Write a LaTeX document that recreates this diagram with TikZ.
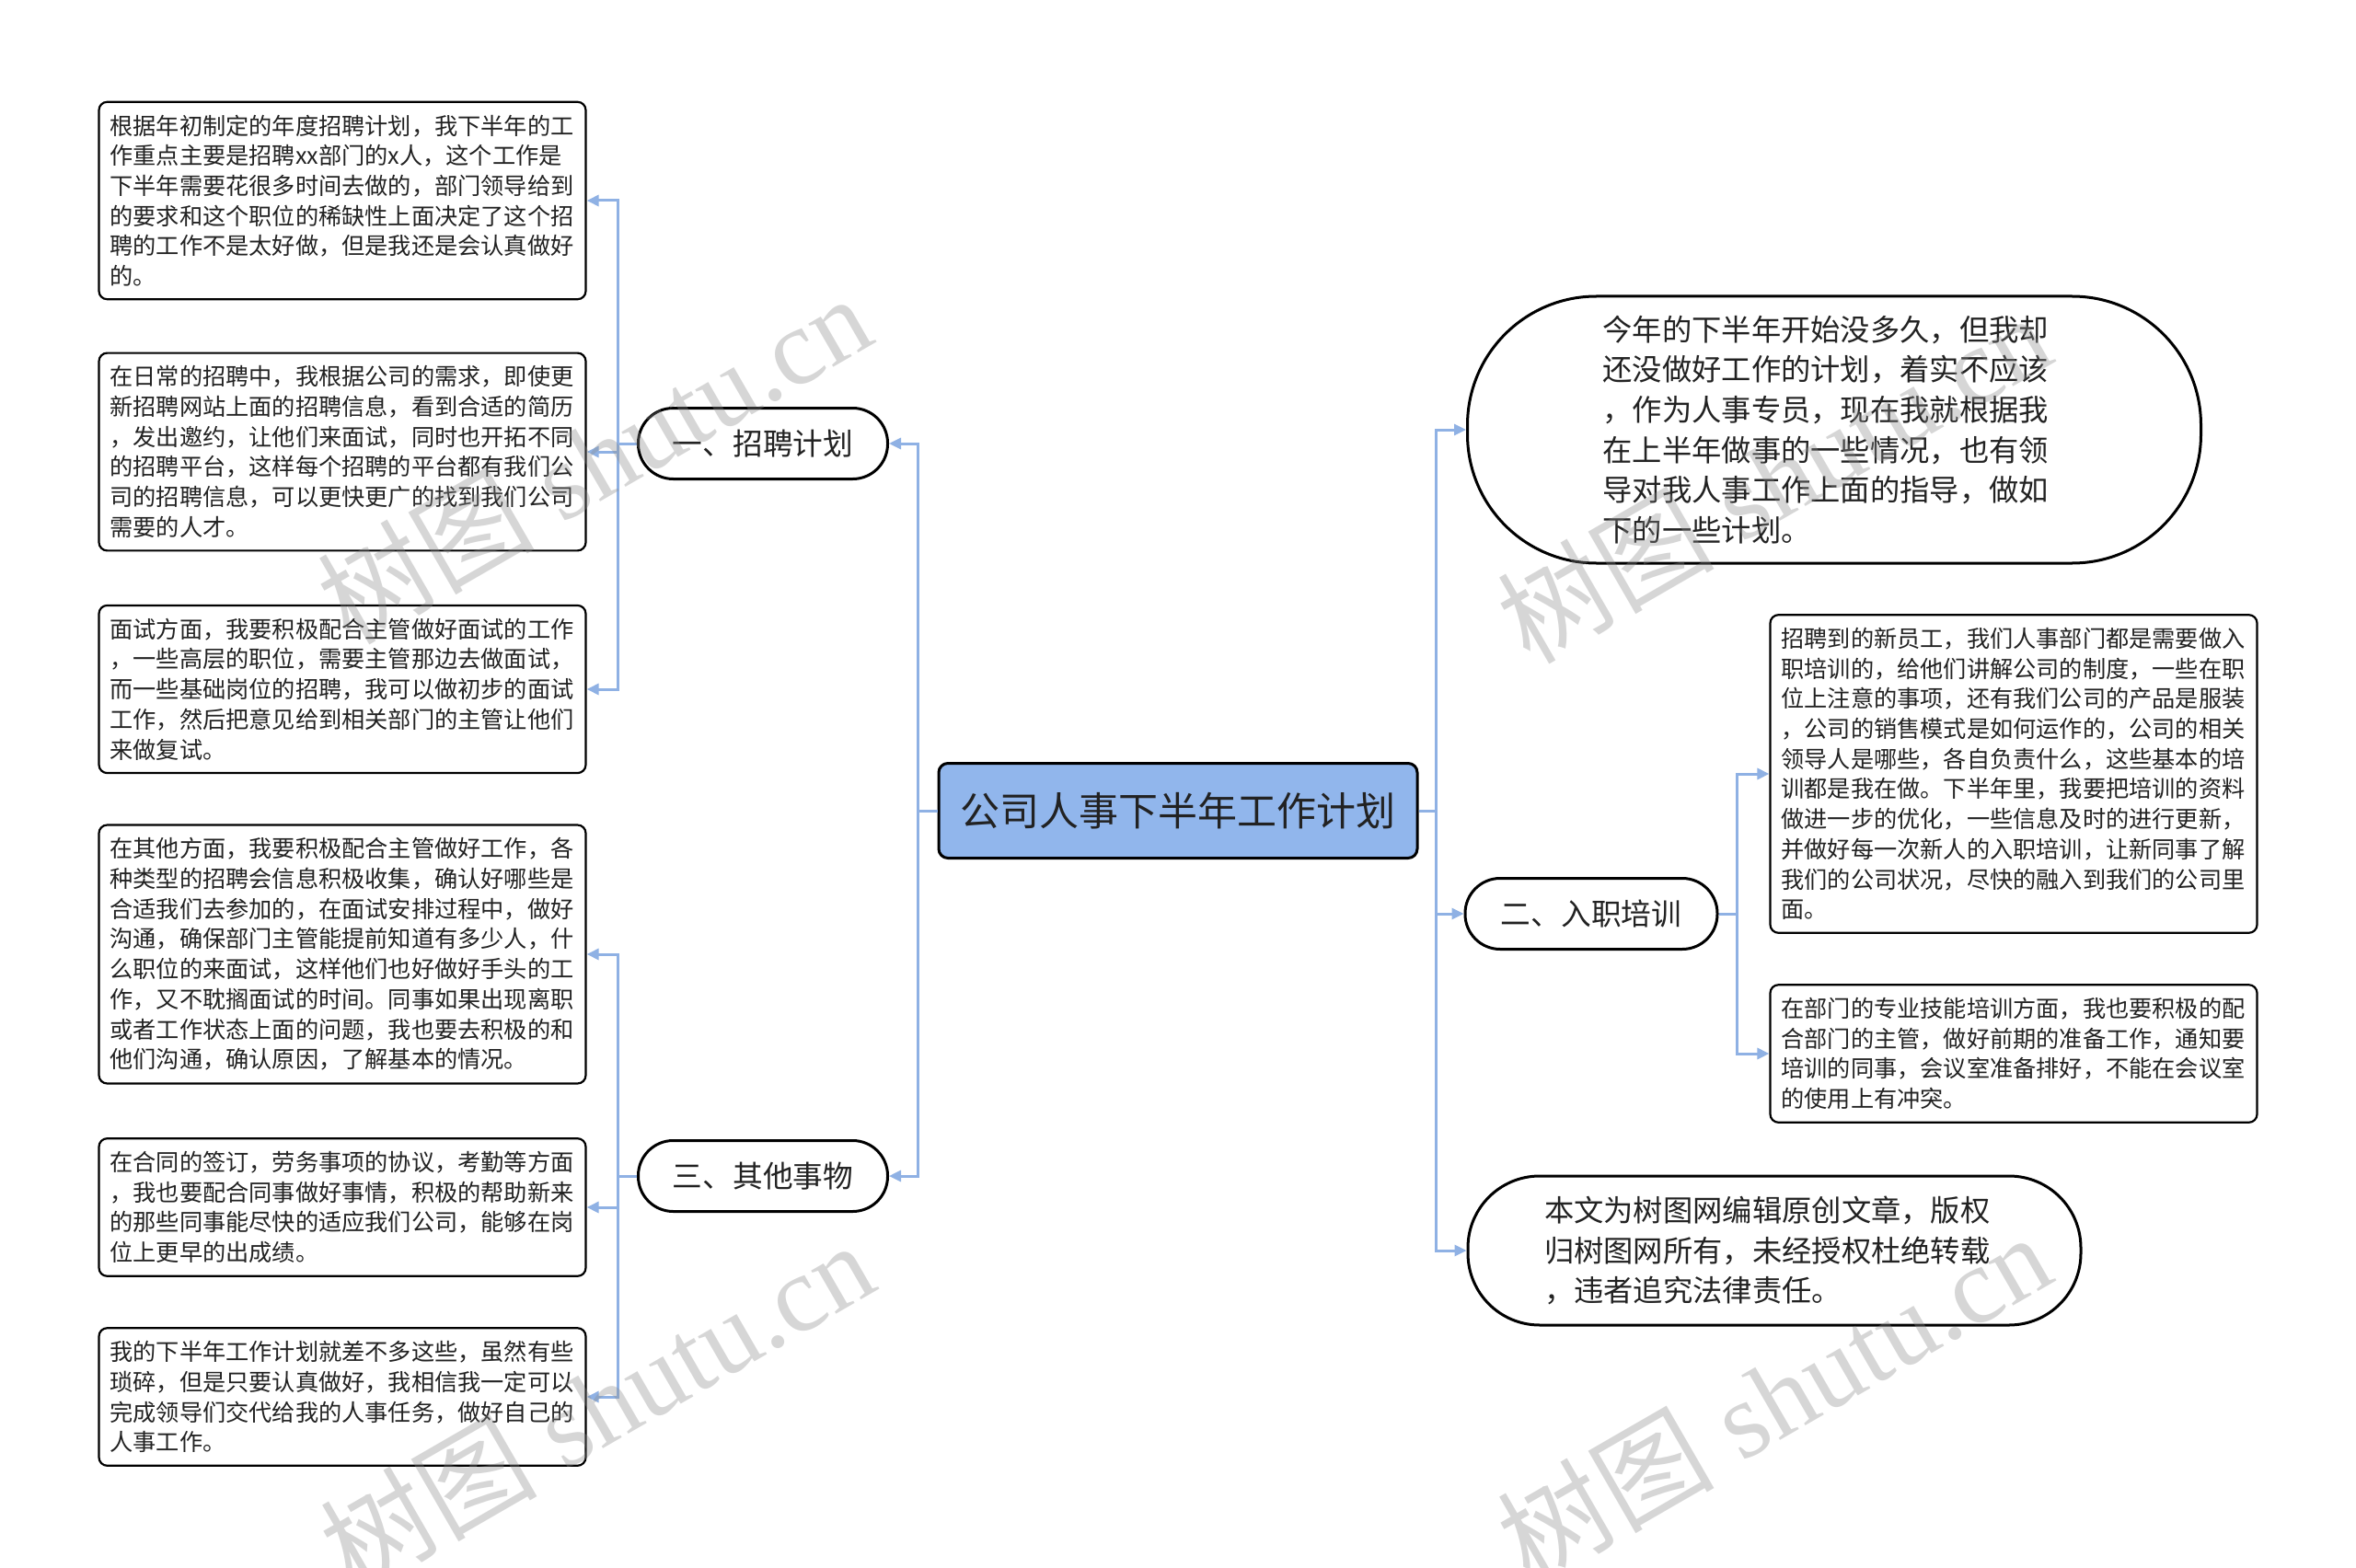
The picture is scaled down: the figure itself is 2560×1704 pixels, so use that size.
\documentclass[tikz,border=0pt]{standalone}
\usepackage{fontspec}
\newfontfamily\cjk{Noto Sans CJK SC}
\newfontfamily\wmserif{Liberation Serif}
\usetikzlibrary{arrows.meta}
\definecolor{linkblue}{RGB}{143,177,228}
\definecolor{rootblue}{RGB}{145,182,236}
\definecolor{inkgray}{RGB}{34,34,34}
\tikzset{
  textbox/.style={draw=black, line width=2.2pt, rounded corners=9pt, fill=white,
    text width=505pt, align=left, inner xsep=12pt, inner ysep=14pt,
    font={\cjk\fontsize{25.2}{32.7}\selectfont}, text=inkgray},
  pill/.style={draw=black, line width=3pt, rounded corners=38pt, fill=white,
    minimum width=271pt, minimum height=77pt,
    font={\cjk\fontsize{32.7}{40}\selectfont}, text=inkgray},
  bubble/.style={draw=black, line width=3pt, fill=white, align=left,
    font={\cjk\fontsize{32.3}{43.7}\selectfont}, text=inkgray},
  link/.style={draw=linkblue, line width=3pt, -{Triangle[length=13pt,width=12pt]}},
  wmark/.style={text=black!45, text opacity=0.35, rotate=30,
    font={\wmserif\fontsize{118}{118}\selectfont}}
}
\begin{document}
\begin{tikzpicture}[x=1pt, y=-1pt]
	\fill[white] (0,0) rectangle (2560,1704);
	\useasboundingbox (0,0) rectangle (2560,1704);
	
	% Mitte
	\node[draw=black, line width=3pt, rounded corners=10pt, fill=rootblue,
	  minimum width=520pt, minimum height=103pt, text=inkgray,
	  font={\cjk\fontsize{43}{50}\selectfont}] (root) at (1280,881) {公司人事下半年工作计划};
	
	% Zweige
	\node[pill] (plan) at (829,482) {一、招聘计划};
	\node[pill] (misc) at (829,1278) {三、其他事物};
	\node[pill, minimum width=274pt] (train) at (1729,993) {二、入职培训};
	
	% Einleitung und Schluss
	\node[bubble, rounded corners=140pt, minimum width=797pt, minimum height=290pt,
	  text width=503pt] (intro) at (1993,467) {今年的下半年开始没多久，但我却\\
	还没做好工作的计划，着实不应该\\
	，作为人事专员，现在我就根据我\\
	在上半年做事的一些情况，也有领\\
	导对我人事工作上面的指导，做如\\
	下的一些计划。};
	\node[bubble, rounded corners=78pt, minimum width=666pt, minimum height=162pt,
	  text width=500pt] (note) at (1928,1359) {本文为树图网编辑原创文章，版权\\
	归树图网所有，未经授权杜绝转载\\
	，违者追究法律责任。};
	
	% Blaetter links
	\node[textbox] (planA) at (372,218) {根据年初制定的年度招聘计划，我下半年的工\\
	作重点主要是招聘xx部门的x人，这个工作是\\
	下半年需要花很多时间去做的，部门领导给到\\
	的要求和这个职位的稀缺性上面决定了这个招\\
	聘的工作不是太好做，但是我还是会认真做好\\
	的。};
	\node[textbox] (planB) at (372,491) {在日常的招聘中，我根据公司的需求，即使更\\
	新招聘网站上面的招聘信息，看到合适的简历\\
	，发出邀约，让他们来面试，同时也开拓不同\\
	的招聘平台，这样每个招聘的平台都有我们公\\
	司的招聘信息，可以更快更广的找到我们公司\\
	需要的人才。};
	\node[textbox] (planC) at (372,749) {面试方面，我要积极配合主管做好面试的工作\\
	，一些高层的职位，需要主管那边去做面试，\\
	而一些基础岗位的招聘，我可以做初步的面试\\
	工作，然后把意见给到相关部门的主管让他们\\
	来做复试。};
	\node[textbox] (miscA) at (372,1037) {在其他方面，我要积极配合主管做好工作，各\\
	种类型的招聘会信息积极收集，确认好哪些是\\
	合适我们去参加的，在面试安排过程中，做好\\
	沟通，确保部门主管能提前知道有多少人，什\\
	么职位的来面试，这样他们也好做好手头的工\\
	作，又不耽搁面试的时间。同事如果出现离职\\
	或者工作状态上面的问题，我也要去积极的和\\
	他们沟通，确认原因，了解基本的情况。};
	\node[textbox] (miscB) at (372,1312) {在合同的签订，劳务事项的协议，考勤等方面\\
	，我也要配合同事做好事情，积极的帮助新来\\
	的那些同事能尽快的适应我们公司，能够在岗\\
	位上更早的出成绩。};
	\node[textbox] (miscC) at (372,1518) {我的下半年工作计划就差不多这些，虽然有些\\
	琐碎，但是只要认真做好，我相信我一定可以\\
	完成领导们交代给我的人事任务，做好自己的\\
	人事工作。};
	
	% Blaetter rechts
	\node[textbox] (trainA) at (2188,841) {招聘到的新员工，我们人事部门都是需要做入\\
	职培训的，给他们讲解公司的制度，一些在职\\
	位上注意的事项，还有我们公司的产品是服装\\
	，公司的销售模式是如何运作的，公司的相关\\
	领导人是哪些，各自负责什么，这些基本的培\\
	训都是我在做。下半年里，我要把培训的资料\\
	做进一步的优化，一些信息及时的进行更新，\\
	并做好每一次新人的入职培训，让新同事了解\\
	我们的公司状况，尽快的融入到我们的公司里\\
	面。};
	\node[textbox] (trainB) at (2188,1145) {在部门的专业技能培训方面，我也要积极的配\\
	合部门的主管，做好前期的准备工作，通知要\\
	培训的同事，会议室准备排好，不能在会议室\\
	的使用上有冲突。};
	
	% Verbindungen
	\foreach \c in {plan, misc}
	  \draw[link] (root.west) -- ++(-21,0) |- (\c.east);
	\foreach \c in {planA, planB, planC}
	  \draw[link] (plan.west) -- ++(-21,0) |- (\c.east);
	\foreach \c in {miscA, miscB, miscC}
	  \draw[link] (misc.west) -- ++(-21,0) |- (\c.east);
	\foreach \c in {intro, train, note}
	  \draw[link] (root.east) -- ++(19,0) |- (\c.west);
	\foreach \c in {trainA, trainB}
	  \draw[link] (train.east) -- ++(20,0) |- (\c.west);
	
	% Wasserzeichen
	\foreach \p in {(645,498), (648,1527), (1927,519), (1927,1518)}
	  \node[wmark] at \p {{\cjk 树图} shutu.cn};
	
\end{tikzpicture}
\end{document}
